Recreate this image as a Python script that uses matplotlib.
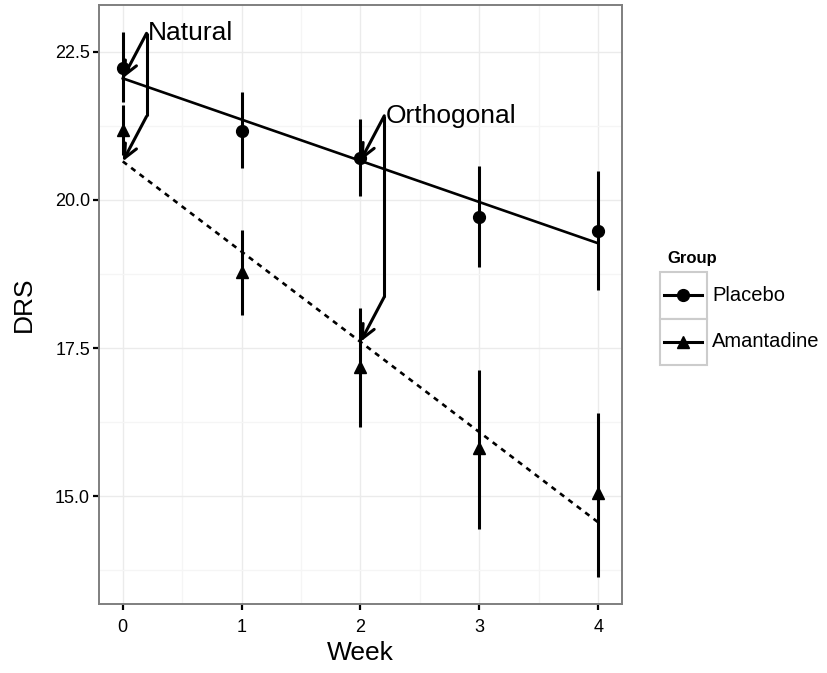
import numpy as np
import matplotlib
matplotlib.use('Agg')
import matplotlib.pyplot as plt
from matplotlib.patches import Rectangle
from matplotlib.lines import Line2D

plt.rcParams['font.family'] = ['Liberation Sans', 'DejaVu Sans']

# data
weeks = [0, 1, 2, 3, 4]
groups = ['Placebo', 'Amantadine']
placebo_mean = [22.23, 21.17, 20.71, 19.71, 19.48]
placebo_lo = [21.66, 20.54, 20.06, 18.86, 18.48]
placebo_hi = [22.83, 21.83, 21.36, 20.57, 20.48]
amant_mean = [21.18, 18.79, 17.18, 15.82, 15.05]
amant_lo = [20.76, 18.06, 16.17, 14.45, 13.64]
amant_hi = [21.60, 19.49, 18.18, 17.13, 16.40]

W, H = 828, 673
fig = plt.figure(figsize=(W / 100, H / 100), dpi=100)
ax = fig.add_axes([99 / W, 1 - 604 / H, (622 - 99) / W, (604 - 5) / H])

wk = np.array(weeks)
pm, am = np.array(placebo_mean), np.array(amant_mean)
fit_p = np.polyfit(wk, pm, 1)
fit_a = np.polyfit(wk, am, 1)

# grid
ax.set_xticks(weeks)
ax.set_xticks([0.5, 1.5, 2.5, 3.5], minor=True)
ax.set_yticks([15.0, 17.5, 20.0, 22.5])
ax.set_yticks([13.75, 16.25, 18.75, 21.25], minor=True)
ax.grid(which='major', color='#ebebeb', lw=1.0, zorder=0)
ax.grid(which='minor', color='#f5f5f5', lw=1.0, zorder=0)
ax.set_axisbelow(True)

# error bars and points
ax.vlines(wk, placebo_lo, placebo_hi, color='black', lw=2.2, zorder=3)
ax.vlines(wk, amant_lo, amant_hi, color='black', lw=2.2, zorder=3)
ax.plot(wk, pm, 'o', color='black', ms=8.5, zorder=4)
ax.plot(wk, am, '^', color='black', ms=9, zorder=4)

# fitted lines
xx = np.array([0, 4])
ax.plot(xx, np.polyval(fit_p, xx), color='black', lw=1.9, zorder=3)
ax.plot(xx, np.polyval(fit_a, xx), color='black', lw=1.9, ls=(0, (2, 2)), zorder=3)

# annotations
arrow_kw = dict(arrowstyle='->,head_length=0.55,head_width=0.25', lw=2.2,
                color='black', shrinkA=0, shrinkB=0, mutation_scale=18)
for x0, label in [(0, 'Natural'), (2, 'Orthogonal')]:
    yp = np.polyval(fit_p, x0)
    ya = np.polyval(fit_a, x0)
    top = yp + 0.76
    xs = x0 + 0.2
    ax.annotate('', xy=(x0, yp), xytext=(xs, top), arrowprops=arrow_kw, zorder=5)
    ax.plot([xs, xs], [top, top - (yp - ya)], color='black', lw=2.2,
            solid_capstyle='butt', zorder=5)
    ax.annotate('', xy=(x0, ya), xytext=(xs, top - (yp - ya)),
                arrowprops=arrow_kw, zorder=5)
    ax.text(xs + 0.01, top, label, fontsize=19, ha='left', va='center', zorder=6)

ax.set_xlim(-0.2, 4.2)
ax.set_ylim(13.18, 23.29)
ax.yaxis.set_major_formatter(matplotlib.ticker.FormatStrFormatter('%.1f'))
for s in ax.spines.values():
    s.set_color('#7f7f7f')
    s.set_linewidth(1.4)
ax.tick_params(which='major', length=4.5, width=1.6, color='black',
               labelsize=13, labelcolor='black', pad=2)
ax.tick_params(axis='x', which='major', pad=6)
ax.tick_params(which='minor', length=0)
ax.set_xlabel('Week', fontsize=19, labelpad=4)
ax.set_ylabel('DRS', fontsize=19, labelpad=14)

# legend
def px(x, y):
    return (x / W, 1 - y / H)

fig.text(*px(667, 258), 'Group', fontsize=12, fontweight='bold',
         ha='left', va='center')
keys = [('o', 8.5), ('^', 9)]
for i, (g, (mk, ms)) in enumerate(zip(groups, keys)):
    y0 = 272 + i * 46.5
    fig.add_artist(Rectangle(px(660, y0 + 46.5), 47 / W, 46.5 / H,
                             transform=fig.transFigure, facecolor='white',
                             edgecolor='#cccccc', lw=1.5))
    yc = y0 + 23.25
    fig.add_artist(Line2D([664 / W, 702 / W], [1 - yc / H] * 2,
                          transform=fig.transFigure, color='black', lw=2.2))
    fig.add_artist(Line2D([683 / W], [1 - yc / H], marker=mk, ms=ms,
                          transform=fig.transFigure, color='black', lw=0))
    fig.text(*px(712, yc), g, fontsize=14.5, ha='left', va='center')

fig.savefig('out.png', dpi=100)
